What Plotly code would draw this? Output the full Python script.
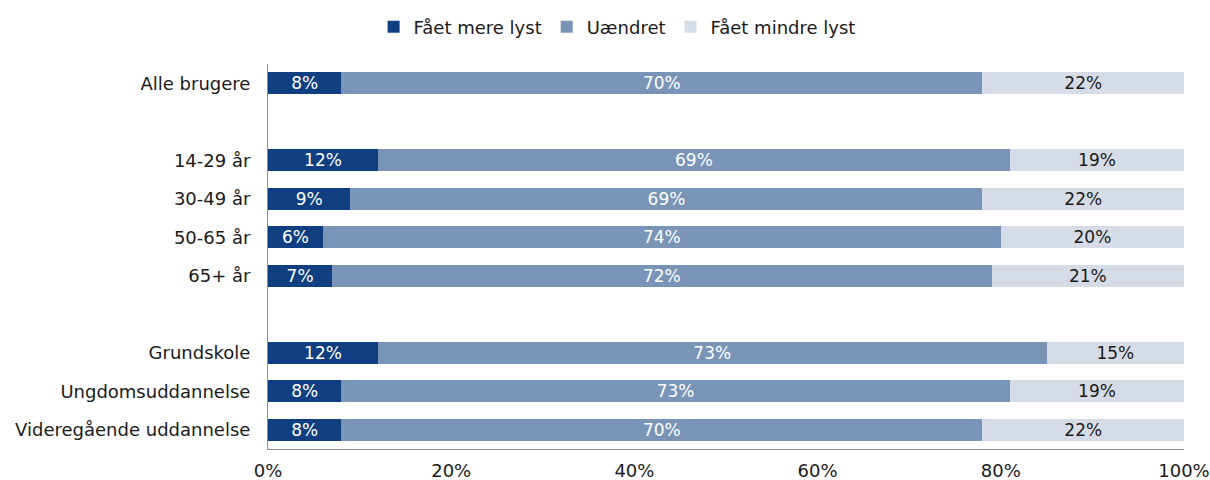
import plotly.graph_objects as go

# Rows top to bottom; blank rows separate the groups
categories = ["Alle brugere", " ", "14-29 år", "30-49 år", "50-65 år", "65+ år", "  ",
              "Grundskole", "Ungdomsuddannelse", "Videregående uddannelse"]
mere_lyst = [8, None, 12, 9, 6, 7, None, 12, 8, 8]
uaendret = [70, None, 69, 69, 74, 72, None, 73, 73, 70]
mindre_lyst = [22, None, 19, 22, 20, 21, None, 15, 19, 22]

series = [
    ("Fået mere lyst", mere_lyst, "#0f3f80", "white"),
    ("Uændret", uaendret, "#7a94b8", "white"),
    ("Fået mindre lyst", mindre_lyst, "#d6dce7", "#1a1a1a"),
]

font_family = "DejaVu Sans, Open Sans, sans-serif"
fsize = 18

fig = go.Figure()
for name, vals, color, tcolor in series:
    fig.add_trace(go.Bar(
        name=name,
        y=categories,
        x=vals,
        orientation="h",
        marker=dict(color=color, line=dict(width=0)),
        text=[f"{v}%" if v is not None else "" for v in vals],
        textposition="inside",
        insidetextanchor="middle",
        textangle=0,
        constraintext="none",
        textfont=dict(color=tcolor, size=17, family=font_family),
        hoverinfo="skip",
    ))

fig.update_layout(
    barmode="stack",
    bargap=0.43,
    width=1210,
    height=480,
    margin=dict(l=268, r=26, t=64, b=31, autoexpand=False),
    paper_bgcolor="white",
    plot_bgcolor="white",
    font=dict(family=font_family, size=fsize, color="#1a1a1a"),
    legend=dict(
        orientation="h",
        x=0.51, xref="container", xanchor="center",
        y=1 - 27 / 480, yref="container", yanchor="middle",
        font=dict(size=fsize),
        itemwidth=30,
        traceorder="normal",
    ),
    showlegend=True,
)
fig.update_xaxes(
    range=[0, 100],
    tickvals=[0, 20, 40, 60, 80, 100],
    ticktext=["0%", "20%", "40%", "60%", "80%", "100%"],
    showgrid=False,
    zeroline=False,
    showline=True,
    linecolor="#8c8c8c",
    linewidth=1,
    ticks="",
    automargin=False,
    ticklabelstandoff=5,
    tickfont=dict(size=fsize),
)
fig.update_yaxes(
    categoryorder="array",
    categoryarray=categories,
    autorange="reversed",
    showgrid=False,
    zeroline=False,
    showline=True,
    linecolor="#8c8c8c",
    linewidth=1,
    ticks="",
    automargin=False,
    ticklabelstandoff=13,
    tickfont=dict(size=fsize),
)

fig.write_html("out.html")
